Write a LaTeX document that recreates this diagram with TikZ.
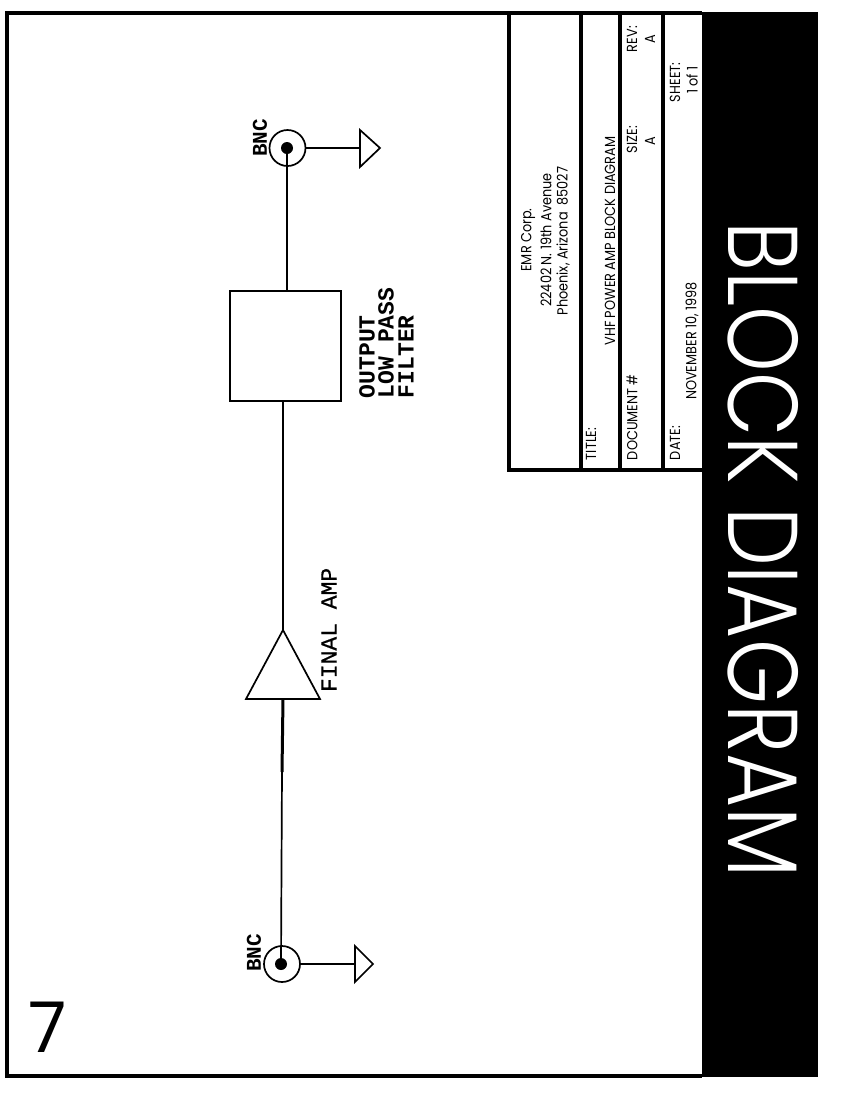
\documentclass[tikz,border=0pt]{standalone}
\usepackage{fontspec}
\setmainfont{Poppins}
\newfontfamily\thinfont{Poppins Light}
\newfontfamily\tbfont[FakeStretch=0.88]{Poppins}
\newfontfamily\labelfont{Liberation Mono}
\newfontfamily\labelmid[FakeBold=0.6]{Liberation Mono}
\tikzset{
  every node/.style={inner sep=0pt,outer sep=0pt},
  wire/.style={line width=1.7pt,black},
  tb/.style={rotate=90,font=\tbfont\fontsize{14.6}{14.6}\selectfont,text=black},
  tbs/.style={tb,anchor=west},
  mono/.style={rotate=90,anchor=west,font=\labelmid\fontsize{23}{23}\selectfont},
  monob/.style={mono,font=\labelfont\bfseries\fontsize{23}{23}\selectfont},
  bnc/.style={rotate=90,font=\labelfont\bfseries\fontsize{21}{21}\selectfont},
  conn/.style={circle,draw,line width=1.7pt,minimum size=36pt},
  pin/.style={circle,fill=black,minimum size=12pt},
  rule/.style={line width=3.6pt,black}
}
\begin{document}
\begin{tikzpicture}[x=1pt,y=-1pt]
\useasboundingbox (0,0) rectangle (865,1120);
% frame
\fill[black] (702,12) rectangle (818,1077);
\draw[line width=4pt] (702,13) -- (7,13) -- (7,1076) -- (702,1076);
% title block
\draw[rule] (509,13) -- (509,470) -- (702,470);
\draw[rule] (581,13) -- (581,470);
\draw[rule] (620,13) -- (620,470);
\draw[rule] (663,13) -- (663,470);
% title text
\node[tb] (t1) at (528,240) {EMR Corp.};
\node[tb] (t2) at (546,240) {22402 N. 19th Avenue};
\node[tb] (t3) at (563,241) {Phoenix, Arizona\ \ 85027};
\node[tbs] (t4) at (591,460) {TITLE:};
\node[tb] (t5) at (610,241) {VHF POWER AMP BLOCK DIAGRAM};
\node[tbs] (t6) at (632,460) {DOCUMENT \#};
\node[tbs] (t7) at (632,153) {SIZE:};
\node[tb] (t8) at (650,141) {A};
\node[tbs] (t9) at (632,52) {REV:};
\node[tb] (t10) at (650,39) {A};
\node[tbs] (t11) at (675,460) {DATE:};
\node[tb] (t12) at (692,341) {NOVEMBER 10, 1998};
\node[tbs] (t13) at (675,102) {SHEET:};
\node[tb] (t14) at (692,80) {1 of 1};
% heading
\node[rotate=-90,text=white] (head) at (763.5,550) {\resizebox{656pt}{70pt}{\thinfont BLOCK DIAGRAM}};
\node (seven) at (48,1027) {\fontsize{70}{70}\selectfont 7};
% schematic
\node[conn] (c1) at (287.5,148) {};
\node[pin] (p1) at (287,148) {};
\node[conn] (c2) at (282,964) {};
\node[pin] (p2) at (281,964) {};
\node[draw,line width=1.8pt,minimum width=111pt,minimum height=110pt] (filter) at (285.5,346) {};
\coordinate (g1) at (360,148);
\coordinate (g2) at (355,964);
\coordinate (amptip) at (283,630);
\coordinate (ampbase) at (283,699);
\draw[line width=1.7pt,line join=miter] (360,130) -- (380,148) -- (360,167) -- cycle;
\draw[line width=1.7pt,line join=miter] (355,946) -- (373,964) -- (355,982) -- cycle;
\draw[line width=1.7pt] (amptip) -- (320,699) -- (246,699) -- cycle;
\draw[wire] (c1.east) -- (g1);
\draw[wire] (c2.east) -- (g2);
\draw[wire] (p1) -- (filter.north -| p1);
\draw[wire] (filter.south -| amptip) -- (amptip);
\coordinate (thickend) at (282,772);
\draw[line width=3pt] (ampbase) -- (thickend);
\draw[wire] (thickend) -- (p2);
% labels
\node[monob] (l1) at (367,398) {OUTPUT};
\node[monob] (l2) at (386,398) {LOW PASS};
\node[monob] (l3) at (406,398) {FILTER};
\node[mono] (l4) at (329,692) {FINAL AMP};
\node[bnc] (b1) at (260,138) {BNC};
\node[bnc] (b2) at (254,953) {BNC};
\end{tikzpicture}
\end{document}
